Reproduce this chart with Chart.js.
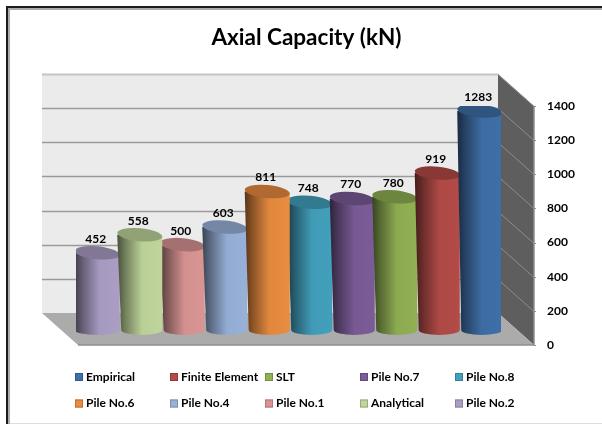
<!DOCTYPE html>
<html>
<head>
<meta charset="utf-8">
<title>Axial Capacity (kN)</title>
<script src="https://cdn.jsdelivr.net/npm/chart.js@4/dist/chart.umd.js"></script>
<style>
  html, body { margin: 0; padding: 0; background: #fff; }
  #wrap { width: 602px; height: 424px; }
</style>
</head>
<body>
<div id="wrap"><canvas id="myChart" width="602" height="424"></canvas></div>
<script>
// left to right as in the picture
const categories = ["Pile No.2", "Analytical", "Pile No.1", "Pile No.4", "Pile No.6", "Pile No.8", "Pile No.7", "SLT", "Finite Element", "Empirical"];
const capacity = [452, 558, 500, 603, 811, 748, 770, 780, 919, 1283];
const yTicks = [0, 200, 400, 600, 800, 1000, 1200, 1400];
const barColors = ["#ab9ec5", "#bfd59b", "#d99594", "#98b1d8", "#e88c40", "#42a0bc", "#7c5c98", "#90b053", "#b34b47", "#3f6fa8"];

const FONT = "Lato, 'Open Sans', sans-serif";
const WALL_DX = 36, WALL_DY = 32;   // back wall offset from the front plane
const BAR_DY = 15;                  // bars stand a bit behind the front edge
const LEFT_TAPER = 4;
const BEHIND = [2, 5];              // Pile No.1 and Pile No.8 sit behind their neighbours

function shade(hex, k) {
  const n = parseInt(hex.slice(1), 16);
  const c = [n >> 16, (n >> 8) & 255, n & 255].map(v => Math.round(v * k));
  return "rgb(" + c.join(",") + ")";
}

function drawCylinder(ctx, bar, color, inset) {
  const half = bar.width / 2;
  const l = bar.x - half, r = bar.x + half;
  const top = bar.y - BAR_DY, base = bar.base - BAR_DY;
  const ry = 6.5, tilt = 0.09;

  const grad = ctx.createLinearGradient(l, 0, r, 0);
  grad.addColorStop(0, shade(color, 0.38));
  grad.addColorStop(0.18, shade(color, 0.6));
  grad.addColorStop(0.55, shade(color, 0.97));
  grad.addColorStop(1, color);

  ctx.save();
  ctx.fillStyle = grad;
  ctx.beginPath();
  ctx.moveTo(l, top);
  ctx.lineTo(l + inset, base);
  ctx.ellipse((l + inset + r) / 2, base, (r - l - inset) / 2, 5, 0, Math.PI, 0, true);
  ctx.lineTo(r, top + half * Math.sin(tilt));
  ctx.closePath();
  ctx.fill();

  ctx.fillStyle = shade(color, 0.76);
  ctx.beginPath();
  ctx.ellipse(bar.x, top, half, ry, tilt, 0, Math.PI * 2);
  ctx.fill();
  ctx.restore();
}

class CylinderController extends Chart.BarController {
  draw() {
    const ctx = this.chart.ctx;
    const bars = this.getMeta().data;
    const order = [...BEHIND, ...bars.map((b, i) => i).filter(i => !BEHIND.includes(i))];
    order.forEach(i => {
      drawCylinder(ctx, bars[i], barColors[i], i === 0 ? 0 : LEFT_TAPER);
    });
  }
}
CylinderController.id = "cylinder";
CylinderController.defaults = Chart.BarController.defaults;
CylinderController.overrides = Chart.BarController.overrides;
Chart.register(CylinderController);

// frame, back wall, side wall, floor and their grid lines
const roomPlugin = {
  id: "room",
  beforeDraw(chart) {
    const ctx = chart.ctx;
    const y = chart.scales.y;
    const frontL = 78, frontR = 534;
    const y0 = y.getPixelForValue(yTicks[0]);
    const yMax = y.getPixelForValue(yTicks[yTicks.length - 1]);
    ctx.save();

    ctx.fillStyle = "#fff";
    ctx.fillRect(0, 0, 602, 424);
    ctx.fillStyle = "#ababab";
    ctx.fillRect(8, 8, 594, 2);
    ctx.fillRect(8, 8, 2, 416);
    ctx.fillStyle = "#1c1c1c";
    ctx.fillRect(6, 6, 596, 2);
    ctx.fillRect(6, 6, 2, 418);
    ctx.fillStyle = "#dedede";
    ctx.fillRect(10, 423, 592, 1);

    ctx.fillStyle = "#ebebeb";
    ctx.fillRect(frontL - WALL_DX, yMax - WALL_DY, frontR - frontL, y0 - yMax);

    ctx.fillStyle = "#5e5e5e";
    ctx.beginPath();
    ctx.moveTo(frontR - WALL_DX, yMax - WALL_DY);
    ctx.lineTo(frontR, yMax);
    ctx.lineTo(frontR, y0);
    ctx.lineTo(frontR - WALL_DX, y0 - WALL_DY);
    ctx.closePath();
    ctx.fill();

    ctx.fillStyle = "#ababab";
    ctx.beginPath();
    ctx.moveTo(frontL - WALL_DX, y0 - WALL_DY);
    ctx.lineTo(frontR - WALL_DX, y0 - WALL_DY);
    ctx.lineTo(frontR, y0);
    ctx.lineTo(frontL, y0);
    ctx.closePath();
    ctx.fill();

    ctx.lineWidth = 1;
    yTicks.forEach(t => {
      const py = Math.round(y.getPixelForValue(t)) + 0.5;
      if (t > 0) {
        ctx.strokeStyle = t === yTicks[yTicks.length - 1] ? "#c4c4c4" : "#9a9a9a";
        ctx.lineWidth = t === yTicks[yTicks.length - 1] ? 2 : 1.5;
        ctx.beginPath();
        ctx.moveTo(frontL - WALL_DX, py - WALL_DY);
        ctx.lineTo(frontR - WALL_DX, py - WALL_DY);
        ctx.stroke();
        ctx.strokeStyle = "#8c8c8c";
        ctx.lineWidth = 1;
        ctx.beginPath();
        ctx.moveTo(frontR - WALL_DX, py - WALL_DY);
        ctx.lineTo(frontR, py);
        ctx.stroke();
      }
      ctx.strokeStyle = "#8e8e8e";
      ctx.beginPath();
      ctx.moveTo(frontR, py);
      ctx.lineTo(frontR + 2, py);
      ctx.stroke();
    });

    ctx.strokeStyle = "#8e8e8e";
    ctx.lineWidth = 1.5;
    ctx.beginPath();
    ctx.moveTo(frontL, y0);
    ctx.lineTo(frontR, y0);
    ctx.lineTo(frontR, yMax);
    ctx.stroke();
    ctx.restore();
  }
};

// value labels and the two-row legend (reversed order of the bars)
const labelsPlugin = {
  id: "labels",
  afterDatasetsDraw(chart) {
    const ctx = chart.ctx;
    ctx.save();
    ctx.font = "bold 12px " + FONT;
    ctx.fillStyle = "#000";
    ctx.textAlign = "center";
    ctx.textBaseline = "middle";
    chart.getDatasetMeta(0).data.forEach((bar, i) => {
      ctx.fillText(String(capacity[i]), bar.x - 1.5, bar.y - BAR_DY - 14);
    });

    ctx.textAlign = "left";
    const names = [...categories].reverse();
    const swatches = [...barColors].reverse();
    names.forEach((name, i) => {
      const lx = 75 + (i % 5) * 95;
      const ly = 377 + Math.floor(i / 5) * 26.5;
      ctx.fillStyle = swatches[i];
      ctx.fillRect(lx, ly - 4, 8, 8);
      ctx.strokeStyle = shade(swatches[i], 0.8);
      ctx.lineWidth = 1;
      ctx.strokeRect(lx + 0.5, ly - 3.5, 7, 7);
      ctx.fillStyle = "#000";
      ctx.fillText(name, lx + 11, ly);
    });
    ctx.restore();
  }
};

new Chart(document.getElementById("myChart"), {
  type: "cylinder",
  data: {
    labels: categories,
    datasets: [
      {
        label: "Axial Capacity (kN)",
        data: capacity,
        backgroundColor: barColors,
        barPercentage: 1.06,
        categoryPercentage: 1,
      },
    ],
  },
  options: {
    responsive: false,
    animation: false,
    layout: { padding: { left: 11, right: 0, top: 0, bottom: 79 } },
    plugins: {
      legend: { display: false },
      tooltip: { enabled: false },
      title: {
        display: true,
        text: "Axial Capacity (kN)",
        color: "#000",
        font: { family: FONT, size: 22.5, weight: "bold" },
        padding: { top: 24, bottom: 55 },
      },
    },
    scales: {
      x: { display: false },
      // empty axis, only holds the room left of the floor
      yLeft: {
        position: "left",
        afterFit(scale) { scale.width = 65; },
        grid: { display: false },
        border: { display: false },
        ticks: { display: false },
      },
      y: {
        position: "right",
        min: 0,
        max: 1400,
        afterFit(scale) { scale.width = 101; },
        grid: { display: false },
        border: { display: false },
        ticks: {
          stepSize: 200,
          padding: 38,
          color: "#000",
          font: { family: FONT, size: 12, weight: "bold" },
          callback: value => String(value),
        },
      },
    },
  },
  plugins: [roomPlugin, labelsPlugin],
});
</script>
</body>
</html>
